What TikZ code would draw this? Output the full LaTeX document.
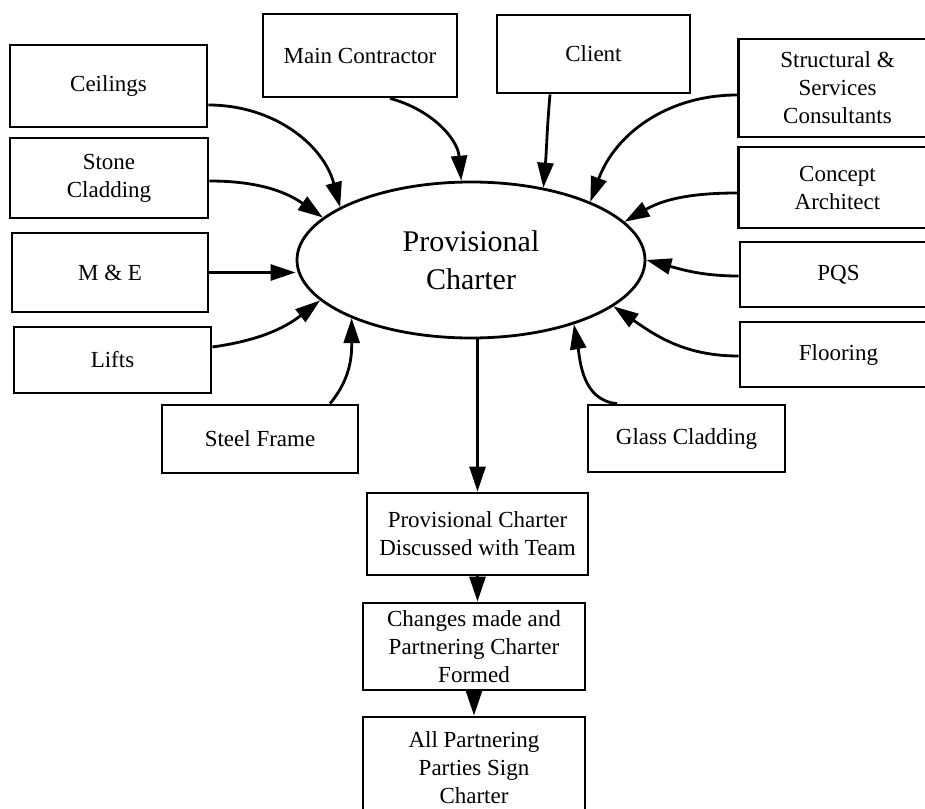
\documentclass[tikz,border=0pt]{standalone}
\usepackage{fontspec}
\setmainfont{Liberation Serif}
\usetikzlibrary{arrows.meta,shapes.geometric}

\begin{document}
\begin{tikzpicture}[x=0.5pt,y=-0.5pt,
  box/.style={draw, line width=1.4pt, rectangle, align=center,
    font=\fontsize{11.5}{14}\selectfont, inner sep=0pt},
  arr/.style={line width=1.4pt, -{Triangle[length=12.5pt,width=8pt]}},
]
\useasboundingbox (0,0) rectangle (925,808);
\clip (0,0) rectangle (925,808);

% central idea
\node[draw, ellipse, line width=1.4pt, minimum width=174pt, minimum height=78pt,
  inner sep=0pt, align=center, font=\fontsize{15}{19}\selectfont]
  (pc) at (471,260) {Provisional\\Charter};

% contributing parties, left side
\node[box, minimum width=98.5pt, minimum height=41pt]   (ceil)  at (108.5,86)  {Ceilings};
\node[box, minimum width=99pt,   minimum height=40pt]   (stone) at (109,178)   {Stone\\Cladding};
\node[box, minimum width=98pt,   minimum height=39.5pt] (me)    at (110,272.5) {M \& E};
\node[box, minimum width=98.5pt, minimum height=33pt]   (lifts) at (112.5,360) {Lifts};
\node[box, minimum width=98pt,   minimum height=34pt]   (steel) at (260,439)   {Steel Frame};

% contributing parties, top
\node[box, minimum width=97pt,   minimum height=41.5pt] (mc)     at (360,55.5) {Main Contractor};
\node[box, minimum width=96.5pt, minimum height=39pt]   (client) at (593.5,54) {Client};

% contributing parties, right side
\node[box, minimum width=99pt,   minimum height=49pt]   (struct)  at (837.5,88)    {Structural \&\\Services\\Consultants};
\node[box, minimum width=99pt,   minimum height=40.5pt] (concept) at (837.5,187.5) {Concept\\Architect};
\node[box, minimum width=98.5pt, minimum height=32.5pt] (pqs)     at (838.5,274.5) {PQS};
\node[box, minimum width=98.5pt, minimum height=32.5pt] (floor)   at (838.5,354.5) {Flooring};
\node[box, minimum width=98.5pt, minimum height=33.5pt] (glass)   at (686.5,438.5) {Glass Cladding};

% process steps
\node[box, minimum width=110.5pt, minimum height=41pt]  (disc) at (477.5,534) {Provisional Charter\\Discussed with Team};
\node[box, minimum width=111pt,   minimum height=43.5pt] (chg) at (474,646.5) {Changes made and\\Partnering Charter\\Formed};
\node[box, minimum width=111pt,   minimum height=51pt]  (sign) at (474,768)   {All Partnering\\Parties Sign\\Charter};

% inputs into the provisional charter
\draw[arr] ([yshift=-9.5pt]ceil.east) to[out=0,in=105] (pc.158);
\draw[arr] ([yshift=-1.5pt]stone.east) to[out=0,in=145] (pc.164);
\draw[arr] (me.east) -- (me.east -| pc.west);
\draw[arr] ([yshift=6.5pt]lifts.east) to[out=8,in=218] (pc.195.6);
\draw[arr] ([xshift=35pt]steel.north) to[out=50,in=-90] (pc.206);
\draw[arr] ([xshift=15pt]mc.south) to[out=-15,in=95] (pc.97);
\draw[arr] ([xshift=-21.75pt]client.south) to[out=-95,in=85] (pc.45);
\draw[arr] ([yshift=-3.5pt]struct.west) to[out=180,in=70] (pc.26);
\draw[arr] ([yshift=-2.75pt]concept.west) to[out=180,in=30] (pc.14);
\draw[arr] ([yshift=-0.75pt]pqs.west) to[out=180,in=-15] (pc.0);
\draw[arr] ([yshift=-0.75pt]floor.west) to[out=180,in=-35] (pc.-18);
\draw[arr] ([xshift=-34.75pt]glass.north) to[out=175,in=-80] (pc.-32);

% process flow
\draw[arr] (pc.south -| disc.north) -- (disc.north);
\draw[arr] (disc.south) -- (disc.south |- chg.north);
\draw[arr] (chg.south) -- (chg.south |- sign.north);
\end{tikzpicture}
\end{document}
